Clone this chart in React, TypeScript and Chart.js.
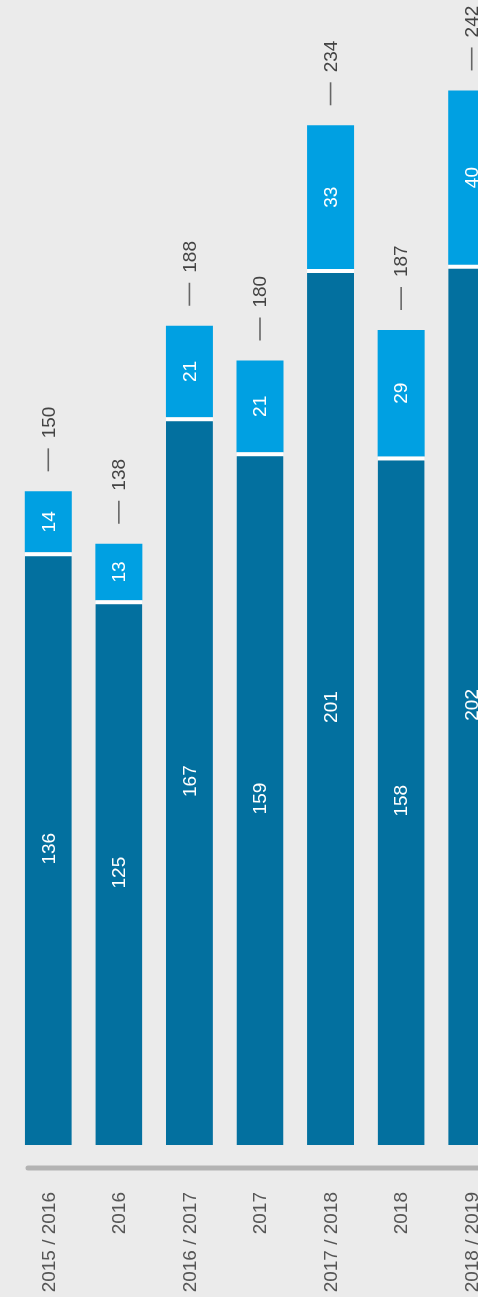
import React, { useEffect, useRef } from "react";
import { Chart, registerables } from "chart.js";

Chart.register(...registerables);

const categories = ["2015 / 2016", "2016", "2016 / 2017", "2017", "2017 / 2018", "2018", "2018 / 2019"];
const baseValues = [136, 125, 167, 159, 201, 158, 202];
const topValues = [14, 13, 21, 21, 33, 29, 40];
const totals = [150, 138, 188, 180, 234, 187, 242];

const BG = "#ebebeb";
const DARK = "#03709f";
const LIGHT = "#00a0e2";
const FONT = "'Liberation Sans', Arial, sans-serif";

const labelPlugin = {
  id: "customLabels",
  afterDatasetsDraw(chart: any) {
    const ctx = chart.ctx;
    const x = chart.scales.x;
    const y = chart.scales.y;
    ctx.save();
    ctx.font = `19px ${FONT}`;
    for (let i = 0; i < categories.length; i++) {
      const cx = x.getPixelForValue(i);
      const y0 = y.getPixelForValue(0);
      const y1 = y.getPixelForValue(baseValues[i]);
      const y2 = y.getPixelForValue(baseValues[i] + topValues[i]);
      const drawRot = (text: string, px: number, py: number, align: CanvasTextAlign, color: string) => {
        ctx.save();
        ctx.translate(px, py);
        ctx.rotate(-Math.PI / 2);
        ctx.fillStyle = color;
        ctx.textAlign = align;
        ctx.textBaseline = "middle";
        ctx.fillText(text, 0, 1);
        ctx.restore();
      };
      drawRot(String(baseValues[i]), cx, (y0 + y1) / 2, "center", "#ffffff");
      drawRot(String(topValues[i]), cx, (y1 + y2) / 2, "center", "#ffffff");
      const tTop = y.getPixelForValue(totals[i]);
      const dashStart = tTop - 20;
      const dashEnd = dashStart - 23;
      ctx.strokeStyle = "#666666";
      ctx.lineWidth = 1.6;
      ctx.beginPath();
      ctx.moveTo(cx, dashStart);
      ctx.lineTo(cx, dashEnd);
      ctx.stroke();
      drawRot(String(totals[i]), cx, dashEnd - 10, "left", "#444444");
      drawRot(categories[i], cx, 1192, "right", "#555555");
    }
    ctx.strokeStyle = "#b3b3b3";
    ctx.lineWidth = 5;
    ctx.lineCap = "round";
    ctx.beginPath();
    ctx.moveTo(28, 1168);
    ctx.lineTo(chart.width + 10, 1168);
    ctx.stroke();
    ctx.restore();
  },
};

export default function App() {
  const ref = useRef<HTMLCanvasElement>(null);
  useEffect(() => {
    document.body.style.margin = "0";
    document.body.style.background = BG;
    const chart = new Chart(ref.current!, {
      type: "bar",
      data: {
        labels: categories,
        datasets: [
          {
            data: baseValues,
            backgroundColor: DARK,
            borderColor: "#ffffff",
            borderWidth: { top: 4, bottom: 0, left: 0, right: 0 },
            borderSkipped: false,
            barPercentage: 0.666,
            categoryPercentage: 1,
          },
          {
            data: topValues,
            backgroundColor: LIGHT,
            borderWidth: 0,
            barPercentage: 0.666,
            categoryPercentage: 1,
          },
        ],
      },
      options: {
        animation: false,
        responsive: false,
        devicePixelRatio: 1,
        layout: { padding: { left: 13, right: 13, top: 12, bottom: 152 } },
        plugins: { legend: { display: false }, tooltip: { enabled: false } },
        scales: {
          x: { stacked: true, display: false },
          y: { stacked: true, display: false, min: 0, max: 260 },
        },
      },
      plugins: [labelPlugin],
    });
    return () => chart.destroy();
  }, []);
  return (
    <div style={{ width: 478, height: 1297, overflow: "hidden", background: BG }}>
      <canvas ref={ref} width={520} height={1297} style={{ display: "block" }} />
    </div>
  );
}
